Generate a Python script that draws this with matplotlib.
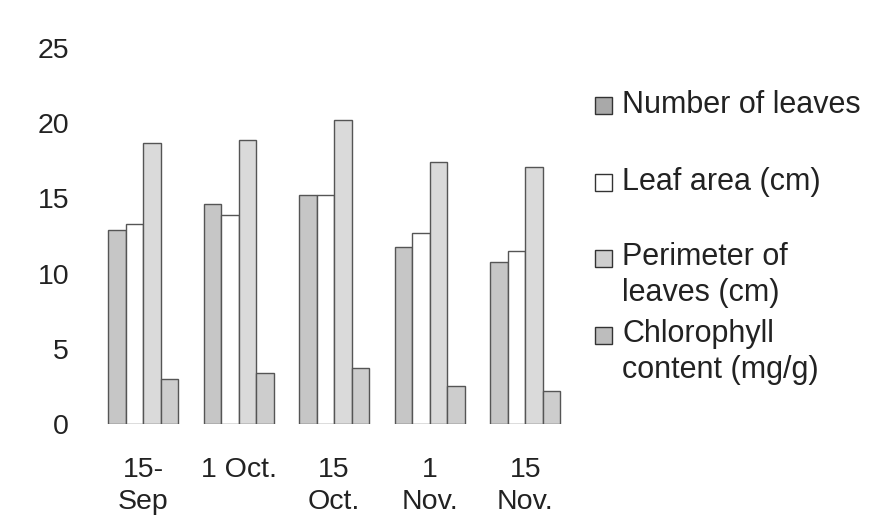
import matplotlib
matplotlib.use("Agg")
import matplotlib.pyplot as plt
from matplotlib.patches import Rectangle
import numpy as np

plt.rcParams['font.family'] = ['Liberation Sans', 'DejaVu Sans']

dates = ["15-\nSep", "1 Oct.", "15\nOct.", "1\nNov.", "15\nNov."]
series_names = ["Number of leaves", "Leaf area (cm)", "Perimeter of\nleaves (cm)", "Chlorophyll\ncontent (mg/g)"]
number_of_leaves = [12.9, 14.6, 15.2, 11.8, 10.8]
leaf_area = [13.3, 13.9, 15.2, 12.7, 11.5]
perimeter = [18.7, 18.9, 20.2, 17.4, 17.1]
chlorophyll = [3.0, 3.4, 3.7, 2.5, 2.2]
yticks = [0, 5, 10, 15, 20, 25]

series = [number_of_leaves, leaf_area, perimeter, chlorophyll]
colors = ["#c6c6c6", "#ffffff", "#dadada", "#cdcdcd"]
legend_colors = ["#a9a9a9", "#ffffff", "#cfcfcf", "#bdbdbd"]
edge = "#555555"

W, H = 886, 527
fig = plt.figure(figsize=(W / 100, H / 100), dpi=100)
left, right, bottom, top = 90, 575, 424, 48
ax = fig.add_axes([left / W, 1 - bottom / H, (right - left) / W, (bottom - top) / H])

x = np.arange(len(dates))
bw = 0.183
for i, (vals, c) in enumerate(zip(series, colors)):
    ax.bar(x + (i - 1.5) * bw, vals, width=bw, color=c, edgecolor=edge, linewidth=1.0,
           label=series_names[i])

ax.set_xlim(-0.555, 4.52)
ax.set_ylim(0, 25)
ax.set_yticks(yticks)
ax.set_yticklabels([str(v) for v in yticks], fontsize=20.5, color="#222222")
ax.set_xticks(x)
ax.set_xticklabels(dates, fontsize=20.5, color="#222222", linespacing=1.28)
ax.tick_params(axis='y', length=0, pad=15)
ax.tick_params(axis='x', length=0, pad=24)
for s in ax.spines.values():
    s.set_visible(False)

# manual legend
first_lines = [105, 182, 258, 335]
line_gap = 34
sw = 17
for i, name in enumerate(series_names):
    y0 = first_lines[i]
    fig.patches.append(Rectangle((595 / W, 1 - (y0 + sw / 2) / H), sw / W, sw / H,
                                 transform=fig.transFigure, facecolor=legend_colors[i],
                                 edgecolor="#333333", linewidth=1.0))
    nlines = name.count("\n") + 1
    yc = y0 + (nlines - 1) * line_gap / 2
    fig.text(622 / W, 1 - yc / H, name, fontsize=22, color="#222222",
             va='center', ha='left', linespacing=1.24)

fig.savefig("out.png", dpi=100, facecolor="white")
